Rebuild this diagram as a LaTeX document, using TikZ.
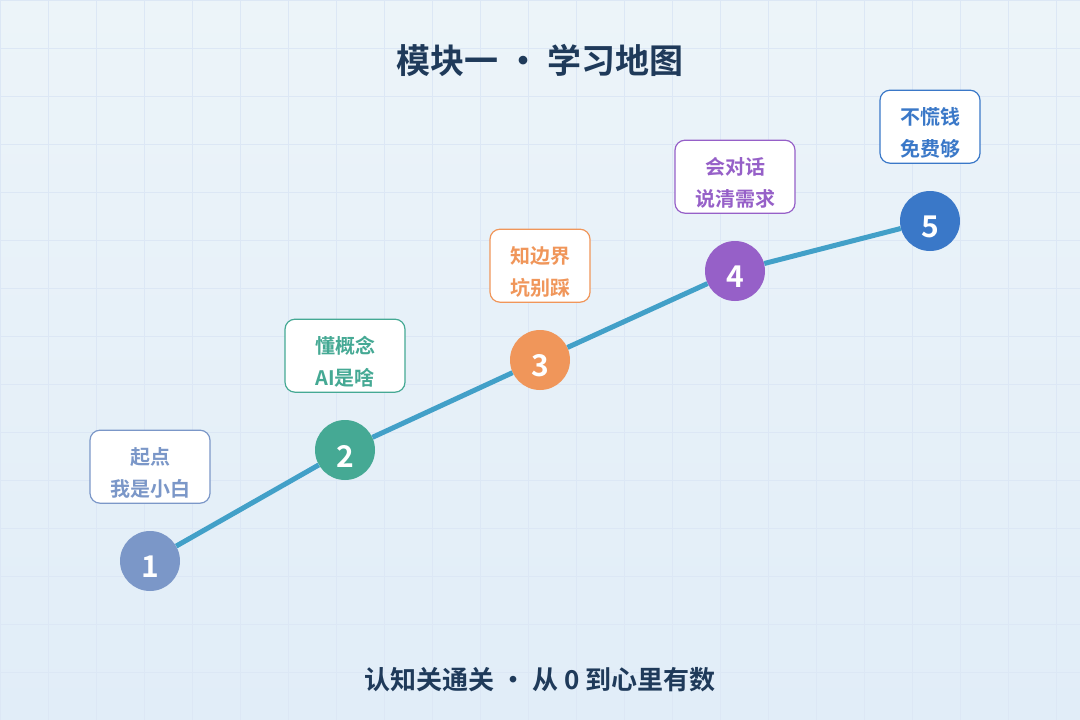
\documentclass[tikz,border=0pt]{standalone}
\usepackage{fontspec}
\setmainfont{Noto Sans CJK SC}[BoldFont={Noto Sans CJK SC Bold}]
\usepackage{tikz}
\usetikzlibrary{positioning}
\definecolor{fundotopo}{HTML}{ECF4F9}
\definecolor{fundobase}{HTML}{E1EDF8}
\definecolor{grade}{HTML}{DCE7F5}
\definecolor{trilha}{HTML}{42A0C8}
\definecolor{tinta}{HTML}{1F3A5A}
\definecolor{cor1}{HTML}{7B97C8}
\definecolor{cor2}{HTML}{45A994}
\definecolor{cor3}{HTML}{F0965A}
\definecolor{cor4}{HTML}{9660C8}
\definecolor{cor5}{HTML}{3A78C8}
\begin{document}
\begin{tikzpicture}[x=1pt, y=-1pt,
      marco/.style={circle, minimum size=60pt, inner sep=0pt, text=white,
                    font=\fontsize{30}{30}\selectfont\bfseries},
      caixa/.style={draw, line width=1.2pt, rounded corners=10pt, fill=white,
                    minimum height=73pt, inner sep=0pt, align=center,
                    font=\fontsize{20}{32}\selectfont\bfseries}]
    \shade[top color=fundotopo, bottom color=fundobase] (0,0) rectangle (1080,720);
    \useasboundingbox (0,0) rectangle (1080,720);
    \foreach \g in {0,48,...,1080} \draw[grade, line width=1pt] (\g,0) -- (\g,720);
    \foreach \g in {0,48,...,720} \draw[grade, line width=1pt] (0,\g) -- (1080,\g);
    \foreach \i/\x/\y/\w/\cor/\lbl in {1/150/561/120/cor1/{起点\\我是小白},
        2/345/450/120/cor2/{懂概念\\AI是啥}, 3/540/360/100/cor3/{知边界\\坑别踩},
        4/735/271/120/cor4/{会对话\\说清需求}, 5/930/221/100/cor5/{不慌钱\\免费够}} {
      \node[marco, fill=\cor] (M\i) at (\x,\y) {\raisebox{-6pt}[\height][\depth]{\i}};
      \node[caixa, draw=\cor, text=\cor, minimum width=\w pt,
            above=27pt of M\i] (C\i)
            {\raisebox{-7pt}[\height][\depth]{\begin{tabular}{@{}c@{}}\lbl\end{tabular}}};
    }
    % trilha entre os marcos
    \foreach \a/\b in {1/2,2/3,3/4,4/5}
      \draw[trilha, line width=5pt] (M\a) -- (M\b);
    \node[font=\fontsize{34}{34}\selectfont\bfseries, text=tinta] (titulo) at (540,60) {模块一 • 学习地图};
    \node[font=\fontsize{26}{26}\selectfont\bfseries, text=tinta] (rodape) at (540,680) {认知关通关 • 从 0 到心里有数};
  \end{tikzpicture}
\end{document}
